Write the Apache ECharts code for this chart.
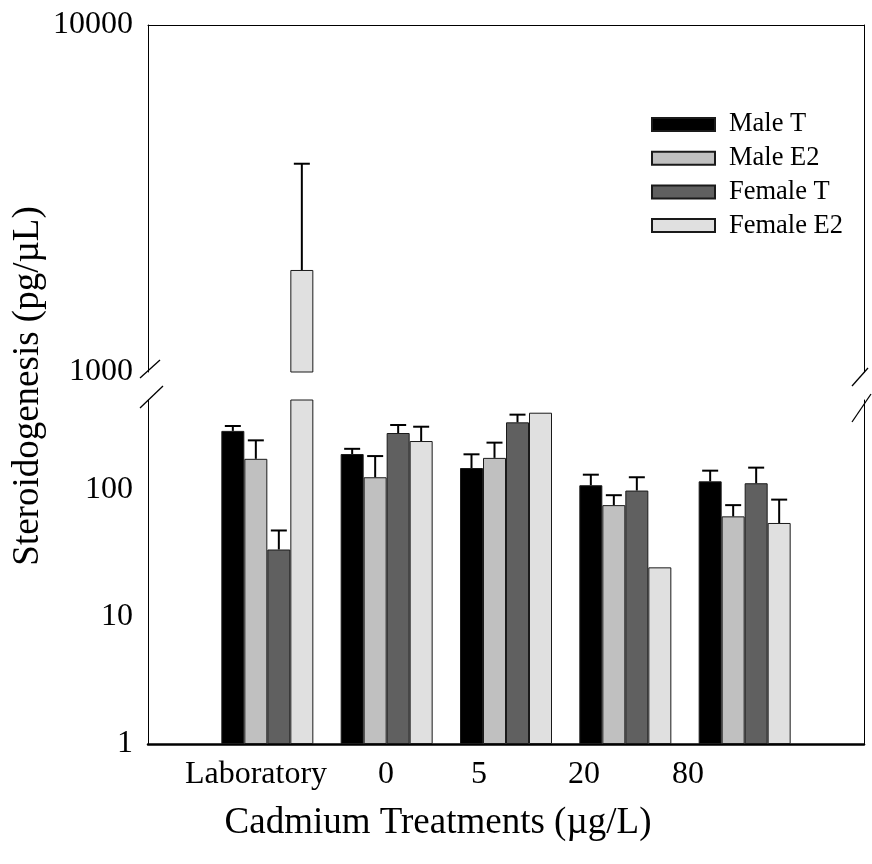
<!DOCTYPE html>
<html>
<head>
<meta charset="utf-8">
<script src="https://cdn.jsdelivr.net/npm/echarts@6/dist/echarts.min.js"></script>
<style>html,body{margin:0;padding:0;background:#fff}#chart{width:872px;height:864px}</style>
</head>
<body>
<div id="chart"></div>
<script>
// ---- data ----
const categories = ['Laboratory', '0', '5', '20', '80'];
const seriesNames = ['Male T', 'Male E2', 'Female T', 'Female E2'];
const maleT = [292, 192, 149, 109, 117];
const maleE2 = [176, 126, 179, 76, 62];
const femaleT = [34, 281, 341, 99, 113];
const femaleE2 = [1968, 243, 406, 24.6, 55];
const maleTErr = [27, 19, 42, 23, 25];
const maleE2Err = [70, 59, 57, 15, 14];
const femaleTErr = [14, 44, 51, 27, 37];
const femaleE2Err = [2015, 72, 0, 0, 29];
const upperTicks = [1000, 10000];
const lowerTicks = [1, 10, 100];
const xTitle = 'Cadmium Treatments (µg/L)';
const yTitle = 'Steroidogenesis (pg/µL)';

const means = [maleT, maleE2, femaleT, femaleE2];
const errs = [maleTErr, maleE2Err, femaleTErr, femaleE2Err];
const colors = ['#000000', '#c0c0c0', '#606060', '#e0e0e0'];
const FONT = 'Liberation Serif';

// padded categories so groups sit on ticks 1..5 of a 0..6 axis
const axisCats = [' '].concat(categories).concat(['  ']);
const pad = arr => [null].concat(arr).concat([null]);

const BAR_W = 23;
const LOWER_MAX = Math.pow(10, 344 / 127);

function powerLabel(ticks) {
  return function (v) {
    for (const t of ticks) { if (Math.abs(v - t) / t < 1e-6) return String(t); }
    return '';
  };
}

function errSeries(gridX, gridY, lo, hi) {
  const data = [];
  for (let s = 0; s < 4; s++) {
    for (let i = 0; i < categories.length; i++) {
      const m = means[s][i], e = errs[s][i];
      if (e > 0 && m >= lo && m <= hi) data.push([i + 1, m, m + e, s]);
    }
  }
  return {
    type: 'custom', xAxisIndex: gridX, yAxisIndex: gridY, silent: true,
    data: data, encode: { x: 0, y: [1, 2] }, z: 5,
    renderItem: function (params, api) {
      const c = api.value(0), m = api.value(1), t = api.value(2), s = api.value(3);
      const p0 = api.coord([c, m]);
      const p1 = api.coord([c, t]);
      const x = p0[0] + (s - 1.5) * BAR_W;
      const st = { stroke: '#000', lineWidth: 2 };
      return {
        type: 'group', children: [
          { type: 'line', shape: { x1: x, y1: p0[1], x2: x, y2: p1[1] }, style: st },
          { type: 'line', shape: { x1: x - 8, y1: p1[1], x2: x + 8, y2: p1[1] }, style: st }
        ]
      };
    }
  };
}

const series = [];
[0, 1].forEach(function (g) {
  for (let s = 0; s < 4; s++) {
    series.push({
      name: seriesNames[s], type: 'bar', xAxisIndex: g, yAxisIndex: g === 0 ? 0 : 2,
      data: pad(means[s]), barWidth: BAR_W, barGap: '0%', clip: true,
      itemStyle: { color: colors[s], borderColor: '#1a1a1a', borderWidth: 1 },
      emphasis: { disabled: true }
    });
  }
});
series.push(errSeries(0, 0, 1000, 10000));
series.push(errSeries(1, 2, 0, LOWER_MAX));

const hidden = { axisTick: { show: false }, splitLine: { show: false } };
const chart = echarts.init(document.getElementById('chart'), null, { renderer: 'canvas' });

const graphics = [];
const labelX = [256, 386, 479, 584, 688];
categories.forEach(function (c, i) {
  graphics.push({ type: 'text', x: labelX[i], y: 775, style: { text: c, font: '32px "' + FONT + '"', fill: '#000', align: 'center', verticalAlign: 'middle' } });
});
graphics.push({ type: 'text', x: 438, y: 823, style: { text: xTitle, font: '37px "' + FONT + '"', fill: '#000', align: 'center', verticalAlign: 'middle' } });
graphics.push({ type: 'text', x: 28, y: 386, rotation: Math.PI / 2, style: { text: yTitle, font: '37px "' + FONT + '"', fill: '#000', align: 'center', verticalAlign: 'middle' } });
// axis break marks
[[140, 378, 160, 360], [140, 408, 163, 386], [852, 386, 868, 368], [852, 422, 871, 394]].forEach(function (l) {
  graphics.push({ type: 'line', shape: { x1: l[0], y1: l[1], x2: l[2], y2: l[3] }, style: { stroke: '#000', lineWidth: 1.3 }, z: 100 });
});

chart.setOption({
  animation: false,
  backgroundColor: '#fff',
  grid: [
    { left: 148, right: 8, top: 25, height: 347 },
    { left: 148, right: 8, top: 400, height: 344 }
  ],
  legend: {
    data: seriesNames, orient: 'vertical', left: 646, top: 106,
    itemWidth: 63, itemHeight: 13, itemGap: 6.7, icon: 'rect',
    textStyle: { fontFamily: FONT, fontSize: 26.5, color: '#000', lineHeight: 25, padding: [0, 0, 0, 9] }
  },
  xAxis: [
    Object.assign({ type: 'category', gridIndex: 0, position: 'top', data: axisCats, boundaryGap: false,
      axisLine: { show: true, lineStyle: { color: '#000', width: 1 } }, axisLabel: { show: false } }, hidden),
    Object.assign({ type: 'category', gridIndex: 1, position: 'bottom', data: axisCats, boundaryGap: false,
      axisLine: { show: true, lineStyle: { color: '#000', width: 2.5 } }, axisLabel: { show: false } }, hidden)
  ],
  yAxis: [
    Object.assign({ type: 'log', gridIndex: 0, position: 'left', min: 1000, max: 10000, logBase: 10,
      axisLine: { show: true, lineStyle: { color: '#000', width: 1 } },
      axisLabel: { show: true, margin: 15, color: '#000', fontFamily: FONT, fontSize: 32, formatter: powerLabel(upperTicks) } }, hidden),
    Object.assign({ type: 'log', gridIndex: 0, position: 'right', min: 1000, max: 10000, logBase: 10,
      axisLine: { show: true, lineStyle: { color: '#000', width: 1 } }, axisLabel: { show: false } }, hidden),
    Object.assign({ type: 'log', gridIndex: 1, position: 'left', min: 1, max: LOWER_MAX, logBase: 10,
      axisLine: { show: true, lineStyle: { color: '#000', width: 1 } },
      axisLabel: { show: true, margin: 15, color: '#000', fontFamily: FONT, fontSize: 32, formatter: powerLabel(lowerTicks), showMaxLabel: false } }, hidden),
    Object.assign({ type: 'log', gridIndex: 1, position: 'right', min: 1, max: LOWER_MAX, logBase: 10,
      axisLine: { show: true, lineStyle: { color: '#000', width: 1 } }, axisLabel: { show: false } }, hidden)
  ],
  series: series,
  graphic: graphics
});
</script>
</body>
</html>
